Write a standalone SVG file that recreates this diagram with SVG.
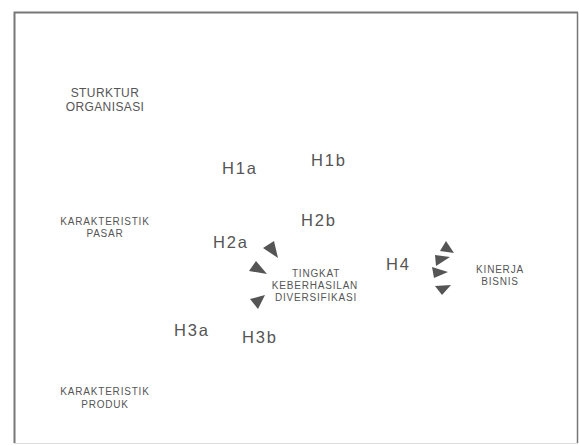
<svg xmlns="http://www.w3.org/2000/svg" width="579" height="446" viewBox="0 0 579 446">
<style>
.node{font-family:"Liberation Sans",Arial,sans-serif;fill:#555;text-anchor:middle}
.small{font-size:10px;letter-spacing:0.8px}
.med{font-size:12px;letter-spacing:0.4px}
.lbl{font-family:"Liberation Sans",Arial,sans-serif;font-size:16.5px;letter-spacing:1.8px;fill:#555}
.ah{fill:#555}
</style>
<rect width="579" height="446" fill="#fff"/>
<g id="frame" fill="none">
<path d="M14.5,443 V12.5 H578" stroke="#777" stroke-width="2"/>
<path d="M577.5,12.5 V443" stroke="#777" stroke-width="1.5"/>
<path d="M14,443.5 H578" stroke="#ddd" stroke-width="1"/>
</g>
<g id="struktur" class="node med"><text x="105" y="97">STURKTUR</text><text x="105" y="110.5">ORGANISASI</text></g>
<g id="pasar" class="node small"><text x="105" y="225">KARAKTERISTIK</text><text x="105" y="237">PASAR</text></g>
<g id="produk" class="node small"><text x="105" y="395">KARAKTERISTIK</text><text x="105" y="408">PRODUK</text></g>
<g id="tingkat" class="node small"><text x="316" y="277">TINGKAT</text><text x="315" y="289">KEBERHASILAN</text><text x="316" y="301">DIVERSIFIKASI</text></g>
<g id="kinerja" class="node small"><text x="500" y="273">KINERJA</text><text x="500" y="285">BISNIS</text></g>
<g id="connectors">
<polygon class="ah" points="263,248 274,241 278,258"/>
<polygon class="ah" points="249,271 256,261 267,274"/>
<polygon class="ah" points="250,299 265,295 258,309"/>
<polygon class="ah" points="440,251 446,241 454,253"/>
<polygon class="ah" points="435,255 450,257 436,266"/>
<polygon class="ah" points="432,267 448,272 434,278"/>
<polygon class="ah" points="435,286 451,285 442,295"/>
<text class="lbl" x="222" y="174">H1a</text>
<text class="lbl" x="311" y="166">H1b</text>
<text class="lbl" x="301" y="226">H2b</text>
<text class="lbl" x="213" y="248">H2a</text>
<text class="lbl" x="386" y="270">H4</text>
<text class="lbl" x="174" y="336">H3a</text>
<text class="lbl" x="242" y="343">H3b</text>
</g>
</svg>
